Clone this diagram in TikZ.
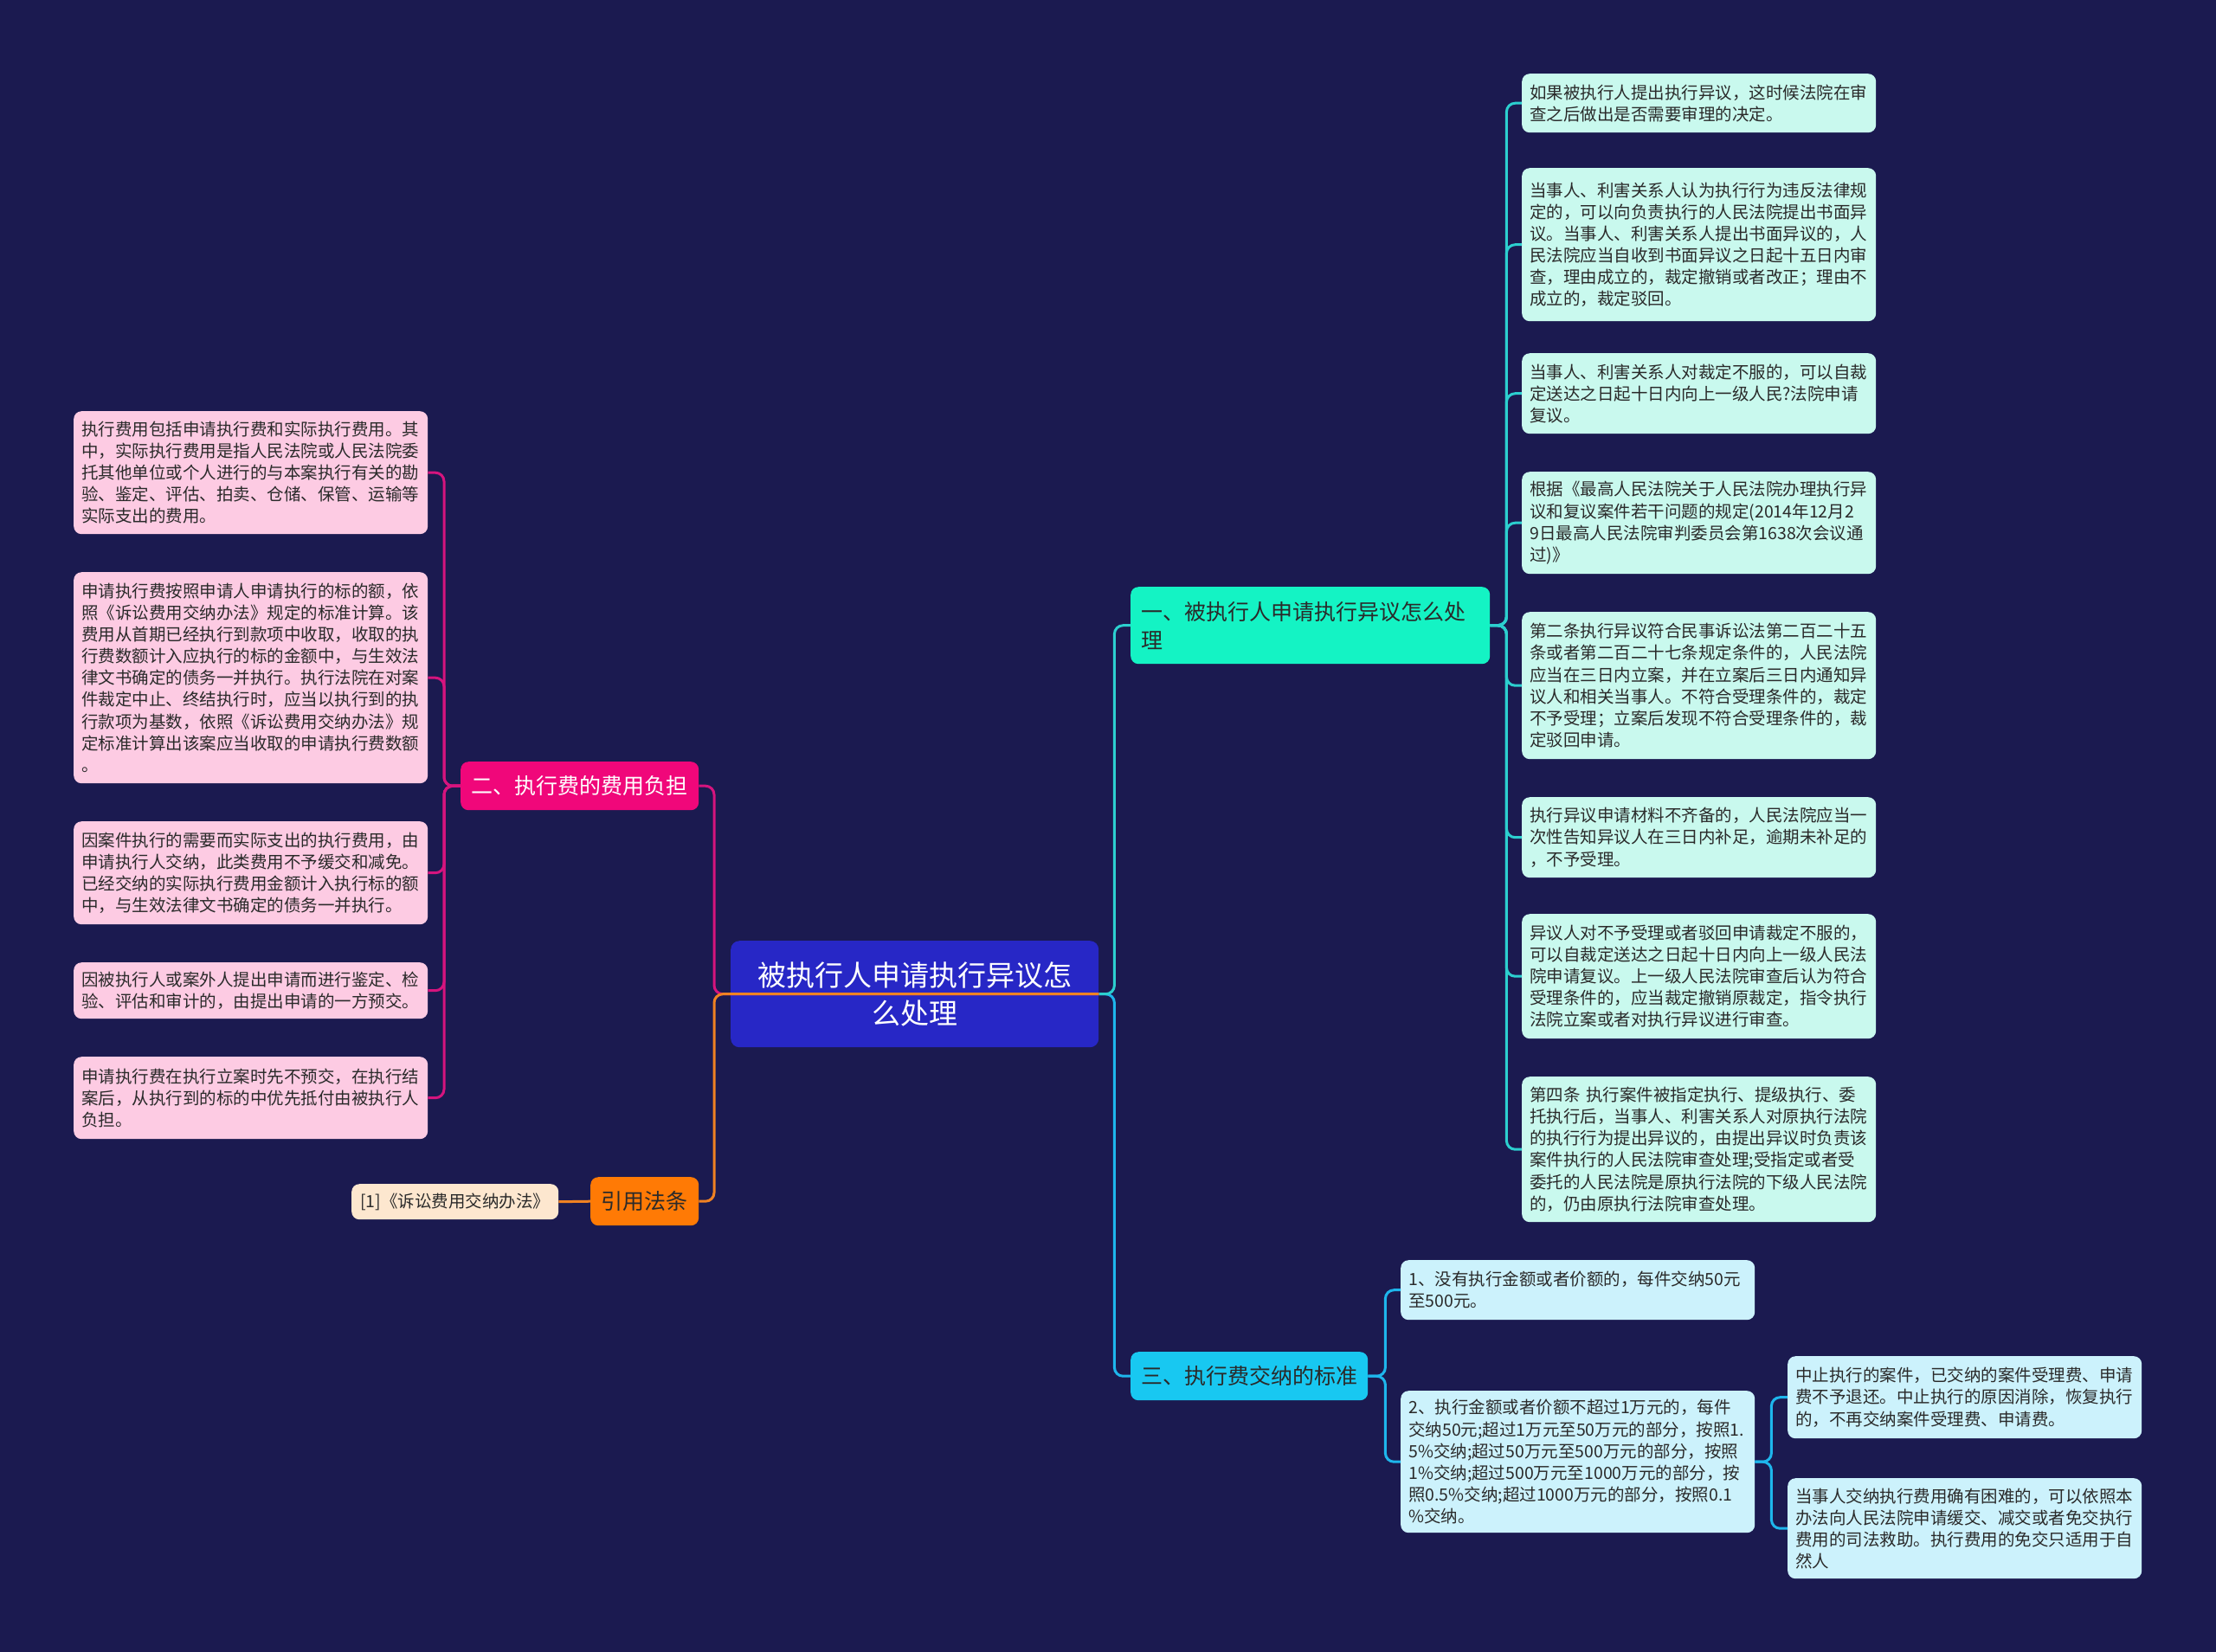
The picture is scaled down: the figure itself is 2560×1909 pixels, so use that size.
\documentclass[tikz,border=0pt]{standalone}
\usepackage{fontspec}
\setmainfont{Noto Sans CJK SC}
\usetikzlibrary{calc}
\definecolor{bg}{HTML}{1B1A50}
\definecolor{cfill}{HTML}{2727C6}
\definecolor{b1fill}{HTML}{14F3C4}
\definecolor{r1fill}{HTML}{C9F9EE}
\definecolor{b3fill}{HTML}{18C8F1}
\definecolor{q1fill}{HTML}{CCF2FC}
\definecolor{b2fill}{HTML}{F0077A}
\definecolor{l1fill}{HTML}{FDCBE3}
\definecolor{yfill}{HTML}{FF7A05}
\definecolor{citefill}{HTML}{FDE7CF}
\definecolor{txt}{HTML}{2A2A2A}
\definecolor{tealc}{HTML}{2CCFCF}
\definecolor{bluec}{HTML}{1EB6EC}
\definecolor{magc}{HTML}{D6147E}
\definecolor{orgc}{HTML}{F08222}
\tikzset{
  box/.style={rectangle, rounded corners=9pt, inner xsep=9pt, inner ysep=0pt,
    anchor=north west, align=left, text=txt,
    font=\fontsize{19.5}{25.1}\selectfont},
  leafR/.style={box, fill=r1fill, text width=391pt},
  leafQ/.style={box, fill=q1fill, text width=391pt},
  leafL/.style={box, fill=l1fill, text width=391pt},
  branch/.style={rectangle, rounded corners=9pt, inner xsep=12pt, inner ysep=0pt,
    anchor=north west, align=left, text=txt, minimum height=56pt,
    font=\fontsize{25}{32.7}\selectfont},
  conn/.style={line width=3pt, rounded corners=10pt},
}
\begin{document}
\begin{tikzpicture}[x=1pt,y=-1pt]
\fill[bg] (0,0) rectangle (2560,1909);
\useasboundingbox (0,0) rectangle (2560,1909);

% center
\node[rectangle, rounded corners=10pt, fill=cfill, anchor=north west, inner xsep=10pt,
  inner ysep=0pt, text width=405pt, minimum height=123pt, align=center, text=white,
  font=\fontsize{33}{44}\selectfont] (c) at (844,1087) {被执行人申请执行异议怎\\么处理};

% branches
\node[branch, fill=b1fill, text width=391pt, minimum height=89pt] (b1) at (1306,678)
  {一、被执行人申请执行异议怎么处\\理};
\node[branch, fill=b3fill, text width=250pt] (b3) at (1306,1562) {三、执行费交纳的标准};
\node[branch, fill=b2fill, text width=251pt, text=white] (b2) at (532,880) {二、执行费的费用负担};
\node[branch, fill=yfill, text width=101pt, text=txt] (y) at (682,1360) {引用法条};
\node[box, fill=citefill, text width=221pt, minimum height=41pt, align=center] (cite) at (406,1368)
  {[1]《诉讼费用交纳办法》};

% right leaves of branch 1
\node[leafR, minimum height=68pt] (r1) at (1758,85)
  {如果被执行人提出执行异议，这时候法院在审\\查之后做出是否需要审理的决定。};
\node[leafR, minimum height=177pt] (r2) at (1758,194)
  {当事人、利害关系人认为执行行为违反法律规\\定的，可以向负责执行的人民法院提出书面异\\议。当事人、利害关系人提出书面异议的，人\\民法院应当自收到书面异议之日起十五日内审\\查，理由成立的，裁定撤销或者改正；理由不\\成立的，裁定驳回。};
\node[leafR, minimum height=93pt] (r3) at (1758,408)
  {当事人、利害关系人对裁定不服的，可以自裁\\定送达之日起十日内向上一级人民?法院申请\\复议。};
\node[leafR, minimum height=118pt] (r4) at (1758,545)
  {根据《最高人民法院关于人民法院办理执行异\\议和复议案件若干问题的规定(2014年12月2\\9日最高人民法院审判委员会第1638次会议通\\过)》};
\node[leafR, minimum height=170pt] (r5) at (1758,707)
  {第二条执行异议符合民事诉讼法第二百二十五\\条或者第二百二十七条规定条件的，人民法院\\应当在三日内立案，并在立案后三日内通知异\\议人和相关当事人。不符合受理条件的，裁定\\不予受理；立案后发现不符合受理条件的，裁\\定驳回申请。};
\node[leafR, minimum height=93pt] (r6) at (1758,921)
  {执行异议申请材料不齐备的，人民法院应当一\\次性告知异议人在三日内补足，逾期未补足的\\，不予受理。};
\node[leafR, minimum height=144pt] (r7) at (1758,1056)
  {异议人对不予受理或者驳回申请裁定不服的，\\可以自裁定送达之日起十日内向上一级人民法\\院申请复议。上一级人民法院审查后认为符合\\受理条件的，应当裁定撤销原裁定，指令执行\\法院立案或者对执行异议进行审查。};
\node[leafR, minimum height=168pt] (r8) at (1758,1244)
  {第四条~执行案件被指定执行、提级执行、委\\托执行后，当事人、利害关系人对原执行法院\\的执行行为提出异议的，由提出异议时负责该\\案件执行的人民法院审查处理;受指定或者受\\委托的人民法院是原执行法院的下级人民法院\\的，仍由原执行法院审查处理。};

% branch 3 leaves
\node[leafQ, minimum height=69pt] (q1) at (1618,1456)
  {1、没有执行金额或者价额的，每件交纳50元\\至500元。};
\node[leafQ, minimum height=164pt] (q2) at (1618,1607)
  {2、执行金额或者价额不超过1万元的，每件\\交纳50元;超过1万元至50万元的部分，按照1.\\5\%交纳;超过50万元至500万元的部分，按照\\1\%交纳;超过500万元至1000万元的部分，按\\照0.5\%交纳;超过1000万元的部分，按照0.1\\\%交纳。};
\node[leafQ, minimum height=95pt] (q2a) at (2065,1567)
  {中止执行的案件，已交纳的案件受理费、申请\\费不予退还。中止执行的原因消除，恢复执行\\的，不再交纳案件受理费、申请费。};
\node[leafQ, minimum height=116pt] (q2b) at (2065,1708)
  {当事人交纳执行费用确有困难的，可以依照本\\办法向人民法院申请缓交、减交或者免交执行\\费用的司法救助。执行费用的免交只适用于自\\然人};

% left leaves of branch 2
\node[leafL, minimum height=142pt] (l1) at (85,475)
  {执行费用包括申请执行费和实际执行费用。其\\中，实际执行费用是指人民法院或人民法院委\\托其他单位或个人进行的与本案执行有关的勘\\验、鉴定、评估、拍卖、仓储、保管、运输等\\实际支出的费用。};
\node[leafL, minimum height=244pt] (l2) at (85,661)
  {申请执行费按照申请人申请执行的标的额，依\\照《诉讼费用交纳办法》规定的标准计算。该\\费用从首期已经执行到款项中收取，收取的执\\行费数额计入应执行的标的金额中，与生效法\\律文书确定的债务一并执行。执行法院在对案\\件裁定中止、终结执行时，应当以执行到的执\\行款项为基数，依照《诉讼费用交纳办法》规\\定标准计算出该案应当收取的申请执行费数额\\。};
\node[leafL, minimum height=119pt] (l3) at (85,949)
  {因案件执行的需要而实际支出的执行费用，由\\申请执行人交纳，此类费用不予缓交和减免。\\已经交纳的实际执行费用金额计入执行标的额\\中，与生效法律文书确定的债务一并执行。};
\node[leafL, minimum height=65pt] (l4) at (85,1112)
  {因被执行人或案外人提出申请而进行鉴定、检\\验、评估和审计的，由提出申请的一方预交。};
\node[leafL, minimum height=95pt] (l5) at (85,1221)
  {申请执行费在执行立案时先不预交，在执行结\\案后，从执行到的标的中优先抵付由被执行人\\负担。};

% connectors
\draw[conn, bluec] (c.east) -- ++(18,0) |- (b3.west);
\draw[conn, tealc] (c.east) -- ++(18,0) |- (b1.west);
\foreach \n in {r1,r2,r3,r4,r5,r6,r7,r8}
  \draw[conn, tealc] (b1.east) -- ++(19,0) |- (\n.west);
\foreach \n in {q1,q2}
  \draw[conn, bluec] (b3.east) -- ++(20,0) |- (\n.west);
\foreach \n in {q2a,q2b}
  \draw[conn, bluec] (q2.east) -- ++(19,0) |- (\n.west);
\draw[conn, magc] (c.east) -- ($(c.west)+(-19,0)$) |- (b2.east);
\draw[conn, orgc] (c.east) -- ($(c.west)+(-19,0)$) |- (y.east);
\foreach \n in {l1,l2,l3,l4,l5}
  \draw[conn, magc] (b2.west) -- ++(-19,0) |- (\n.east);
\draw[conn, orgc] (y.west) -- (cite.east);
\end{tikzpicture}
\end{document}
